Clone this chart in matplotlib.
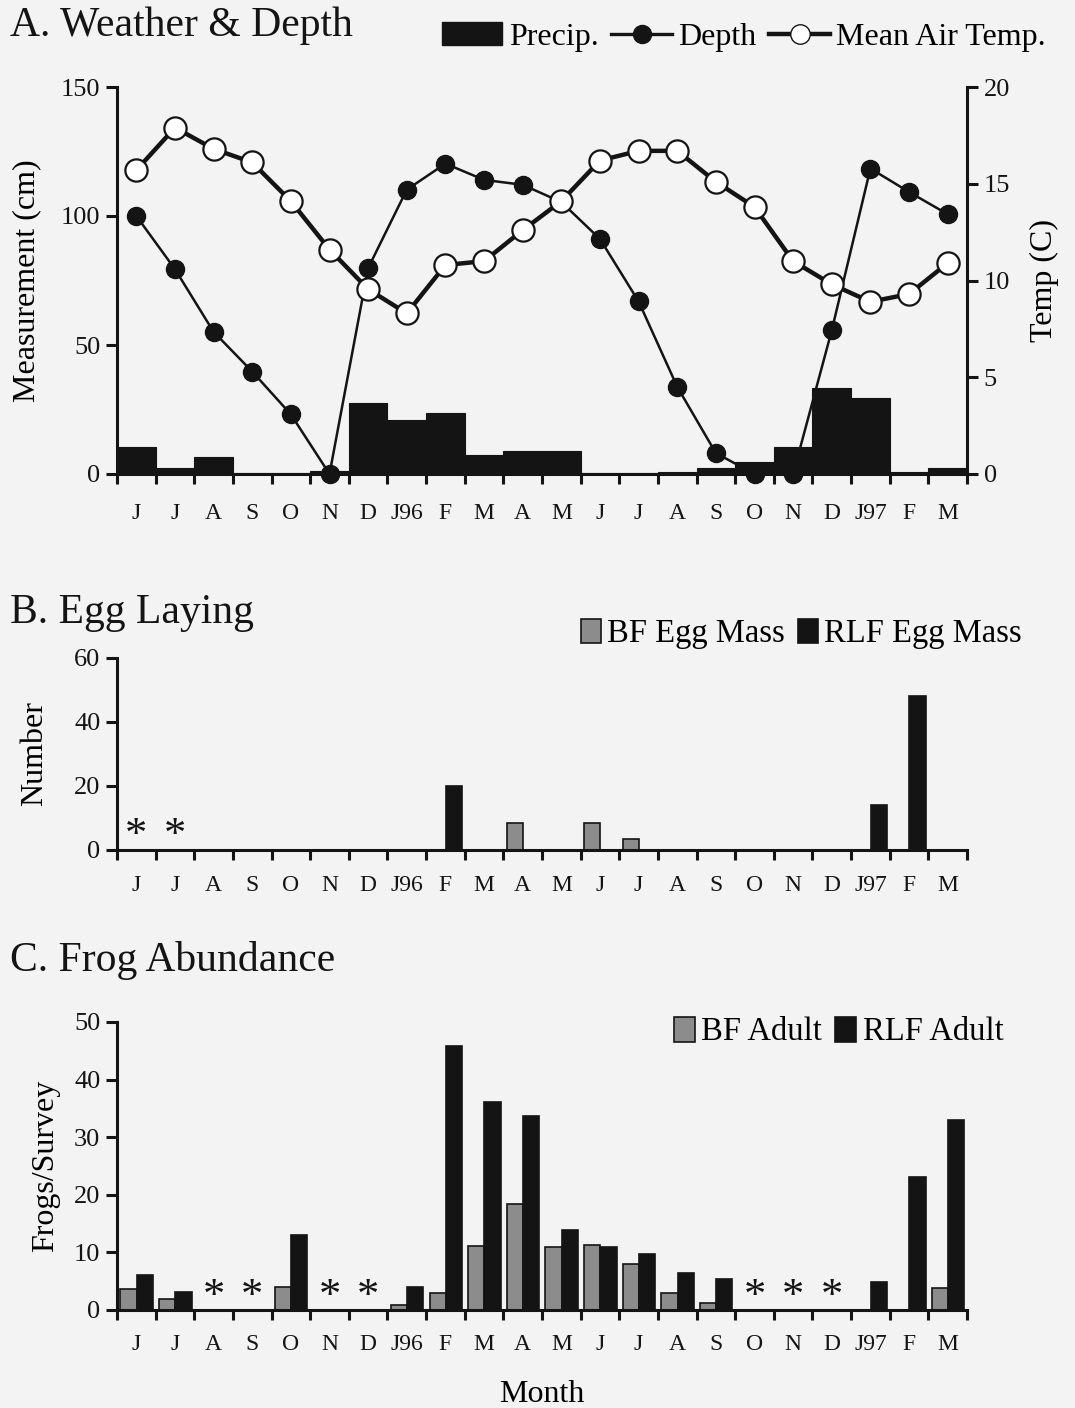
import numpy as np
import matplotlib.pyplot as plt
from matplotlib.patches import Patch
from matplotlib.lines import Line2D

plt.rcParams['font.family'] = ['Liberation Serif', 'DejaVu Serif']

# --- data ---
months = ['J', 'J', 'A', 'S', 'O', 'N', 'D', 'J96', 'F', 'M', 'A',
          'M', 'J', 'J', 'A', 'S', 'O', 'N', 'D', 'J97', 'F', 'M']

# panel A (cm / deg C)
precip = [10.6, 2.5, 6.5, 0.4, 0.4, 1.3, 27.7, 21.0, 23.5, 7.3, 9.0,
          9.0, 0.4, 0.3, 0.7, 2.2, 4.8, 10.3, 33.4, 29.3, 0.9, 2.5]
depth = [100, 79.4, 55.1, 39.7, 23.1, 0, 79.8, 110.2, 120.3, 114, 112.1,
         105.4, 91.1, 66.9, 33.8, 8.1, 0, 0, 55.7, 118.4, 109.3, 100.7]
air_temp = [15.7, 17.9, 16.8, 16.1, 14.1, 11.6, 9.55, 8.3, 10.8, 11.0, 12.6,
            14.1, 16.2, 16.7, 16.7, 15.1, 13.8, 11.0, 9.8, 8.9, 9.3, 10.9]

# panel B (egg masses)
bf_egg = [0, 0, 0, 0, 0, 0, 0, 0, 0, 0, 8.5,
          0, 8.5, 3.5, 0, 0, 0, 0, 0, 0, 0, 0]
rlf_egg = [0, 0, 0, 0, 0, 0, 0, 0, 20, 0, 0,
           0, 0, 0, 0, 0, 0, 0, 0, 14, 48, 0]
egg_missing = [0, 1]

# panel C (frogs/survey)
bf_adult = [3.7, 1.9, 0, 0, 4.0, 0, 0, 0.9, 2.9, 11.1, 18.4,
            11.0, 11.3, 7.9, 2.9, 1.3, 0, 0, 0, 0, 0, 3.8]
rlf_adult = [6.0, 3.2, 0, 0, 13.0, 0, 0, 4.0, 45.9, 36.1, 33.6,
             13.9, 11.0, 9.8, 6.4, 5.4, 0, 0, 0, 4.8, 23.1, 32.9]
adult_missing = [2, 3, 5, 6, 16, 17, 18]

BG = '#f3f3f3'
INK = '#141414'
GRAY = '#8c8c8c'
x = np.arange(len(months))

fig = plt.figure(figsize=(10.75, 14.08), dpi=100, facecolor=BG)


def style_axis(ax, ymax, yticks):
    ax.set_facecolor('none')
    ax.set_xlim(-0.5, len(months) - 0.5)
    ax.set_ylim(0, ymax)
    ax.set_yticks(yticks)
    for s in ['top', 'right']:
        ax.spines[s].set_visible(False)
    for s in ['left', 'bottom']:
        ax.spines[s].set_linewidth(2.2)
        ax.spines[s].set_color(INK)
    # ticks between months, labels at month centres
    ax.set_xticks(np.arange(-0.5, len(months)), labels=[])
    ax.set_xticks(x, labels=months, minor=True)
    ax.tick_params(axis='x', which='major', direction='out', length=7,
                   width=2.2, color=INK)
    ax.tick_params(axis='x', which='minor', length=0, pad=21,
                   labelsize=17, labelcolor=INK)
    ax.tick_params(axis='y', direction='out', length=8, width=2.2,
                   color=INK, labelsize=19, labelcolor=INK, pad=4)


# ---------- A. Weather & Depth ----------
axA = fig.add_axes([117 / 1075, 1 - 474 / 1408, 850 / 1075, 387 / 1408])
style_axis(axA, 150, [0, 50, 100, 150])
axA.bar(x, precip, width=1.0, color=INK, edgecolor=INK, linewidth=0.8, zorder=2)
axA.plot(x, depth, color=INK, lw=1.8, marker='o', ms=13, mfc=INK, mec=INK,
         zorder=3, clip_on=False)
axA.set_ylabel('Measurement (cm)', fontsize=23, labelpad=14)

axT = axA.twinx()
axT.set_facecolor('none')
axT.set_ylim(0, 20)
axT.set_yticks([0, 5, 10, 15, 20])
for s in ['top', 'left', 'bottom']:
    axT.spines[s].set_visible(False)
axT.spines['right'].set_linewidth(2.2)
axT.spines['right'].set_color(INK)
axT.tick_params(axis='y', direction='out', length=8, width=2.2, color=INK,
                labelsize=19, labelcolor=INK, pad=4)
axT.plot(x, air_temp, color=INK, lw=3.2, marker='o', ms=16, mfc='white',
         mec=INK, mew=1.6, zorder=4)
axT.set_ylabel('Temp (C)', fontsize=23, labelpad=14)

fig.text(10 / 1075, 1 - 26 / 1408, 'A. Weather & Depth', fontsize=30,
         va='center', ha='left', color=INK)
hA = [Patch(facecolor=INK, edgecolor=INK),
      Line2D([], [], color=INK, lw=2.4, marker='o', ms=13, mfc=INK, mec=INK),
      Line2D([], [], color=INK, lw=3.2, marker='o', ms=14, mfc='white', mec=INK)]
axA.legend(hA, ['Precip.', 'Depth', 'Mean Air Temp.'], ncol=3, frameon=False,
           fontsize=23, loc='center right',
           bbox_to_anchor=(1062 / 1075, 1 - 37 / 1408),
           bbox_transform=fig.transFigure, handlelength=1.9, handleheight=0.7,
           handletextpad=0.2, columnspacing=0.4, borderpad=0)

# ---------- B. Egg Laying ----------
axB = fig.add_axes([117 / 1075, 1 - 850 / 1408, 850 / 1075, 192 / 1408])
style_axis(axB, 60, [0, 20, 40, 60])
axB.tick_params(axis='x', which='minor', pad=18)
axB.bar(x - 0.2, bf_egg, width=0.42, color=GRAY, edgecolor=INK, linewidth=1.2,
        zorder=2)
axB.bar(x + 0.22, rlf_egg, width=0.42, color=INK, edgecolor=INK, linewidth=1.2,
        zorder=2)
for i in egg_missing:
    axB.text(x[i], 4.5, '*', fontsize=32, ha='center', va='center', color=INK)
axB.set_ylabel('Number', fontsize=23, labelpad=18)
fig.text(10 / 1075, 1 - 613 / 1408, 'B. Egg Laying', fontsize=30,
         va='center', ha='left', color=INK)
hB = [Patch(facecolor=GRAY, edgecolor=INK, linewidth=1.2),
      Patch(facecolor=INK, edgecolor=INK, linewidth=1.2)]
axB.legend(hB, ['BF Egg Mass', 'RLF Egg Mass'], ncol=2, frameon=False,
           fontsize=23.5, loc='center right',
           bbox_to_anchor=(1038 / 1075, 1 - 634 / 1408),
           bbox_transform=fig.transFigure, handlelength=0.6, handleheight=0.75,
           handletextpad=0.2, columnspacing=0.4, borderpad=0)

# ---------- C. Frog Abundance ----------
axC = fig.add_axes([117 / 1075, 1 - 1310 / 1408, 850 / 1075, 288 / 1408])
style_axis(axC, 50, [0, 10, 20, 30, 40, 50])
axC.tick_params(axis='x', which='minor', pad=17)
axC.bar(x - 0.2, bf_adult, width=0.42, color=GRAY, edgecolor=INK, linewidth=1.2,
        zorder=2)
axC.bar(x + 0.22, rlf_adult, width=0.42, color=INK, edgecolor=INK, linewidth=1.2,
        zorder=2)
for i in adult_missing:
    axC.text(x[i], 2.2, '*', fontsize=32, ha='center', va='center', color=INK)
axC.set_ylabel('Frogs/Survey', fontsize=23, labelpad=10)
axC.set_xlabel('Month', fontsize=23, labelpad=18)
fig.text(10 / 1075, 1 - 960 / 1408, 'C. Frog Abundance', fontsize=30,
         va='center', ha='left', color=INK)
axC.legend(hB, ['BF Adult', 'RLF Adult'], ncol=2, frameon=False,
           fontsize=23.5, loc='center right',
           bbox_to_anchor=(1020 / 1075, 1 - 1032 / 1408),
           bbox_transform=fig.transFigure, handlelength=0.65, handleheight=0.8,
           handletextpad=0.2, columnspacing=0.4, borderpad=0)

fig.savefig('out.png', dpi=100, facecolor=BG)
